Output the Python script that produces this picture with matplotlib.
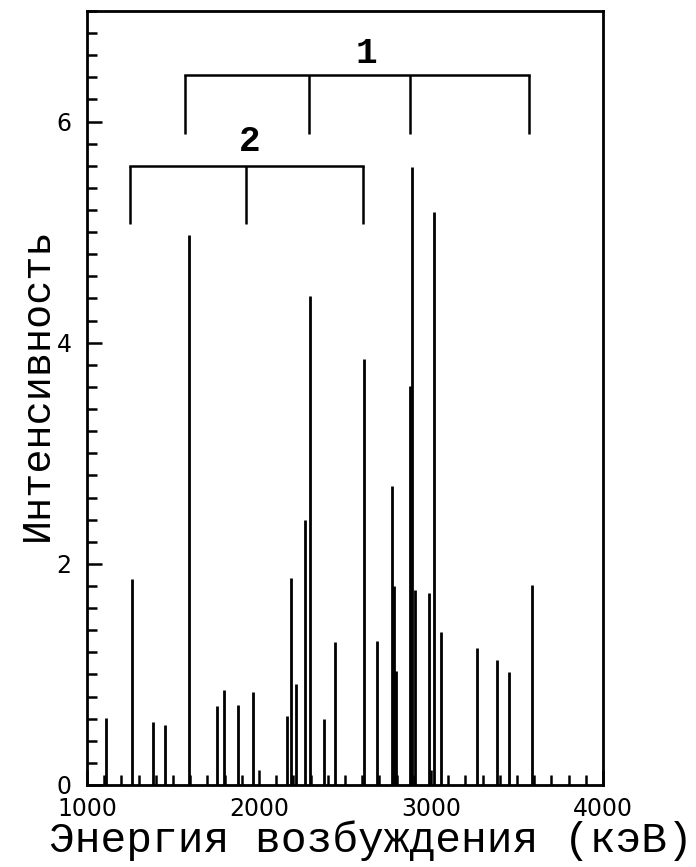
import matplotlib
matplotlib.use("Agg")
import matplotlib.pyplot as plt
from matplotlib.ticker import MultipleLocator
import numpy as np

# excitation energies (keV) and line intensities
energy = [1109, 1260, 1386, 1451, 1595, 1754, 1797, 1876, 1967, 2161,
          2184, 2215, 2267, 2297, 2378, 2444, 2610, 2686, 2771, 2787,
          2797, 2880, 2888, 2907, 2990, 3015, 3056, 3266, 3382, 3452, 3589]
intensity = [0.61, 1.86, 0.57, 0.54, 4.97, 0.71, 0.86, 0.72, 0.84, 0.62,
             1.87, 0.91, 2.40, 4.42, 0.60, 1.29, 3.85, 1.30, 2.70, 1.80,
             1.03, 3.61, 5.59, 1.76, 1.74, 5.18, 1.38, 1.24, 1.13, 1.02, 1.81]

# groups of lines marked with brackets
group1_legs = [1570, 2293, 2878, 3570]
group1_top, group1_bottom = 6.42, 5.89
group2_legs = [1250, 1924, 2603]
group2_top, group2_bottom = 5.60, 5.07
group_labels = [("1", 2625, 6.62), ("2", 1948, 5.82)]

fig = plt.figure(figsize=(6.96, 8.67), dpi=100)
ax = fig.add_axes([0.125, 0.0946, 0.7414, 0.8927])

ax.vlines(energy, 0, intensity, colors="black", linewidth=2.0)

for legs, top, bottom in [(group1_legs, group1_top, group1_bottom),
                          (group2_legs, group2_top, group2_bottom)]:
    ax.plot([legs[0], legs[-1]], [top, top], color="black", lw=1.8,
            solid_capstyle="projecting")
    ax.vlines(legs, bottom, top, colors="black", linewidth=1.8)

for text, x, y in group_labels:
    ax.text(x, y, text, ha="center", va="center", fontsize=26,
            family="Liberation Mono", fontweight="bold")

ax.set_xlim(1000, 4000)
ax.set_ylim(0, 7)
ax.xaxis.set_major_locator(MultipleLocator(1000))
ax.xaxis.set_minor_locator(MultipleLocator(100))
ax.yaxis.set_major_locator(MultipleLocator(2))
ax.yaxis.set_minor_locator(MultipleLocator(0.2))
ax.tick_params(which="both", direction="in", top=False, right=False,
               width=1.8, labelsize=17)
ax.tick_params(which="major", length=11)
ax.tick_params(axis="x", which="major", pad=9)
ax.tick_params(axis="y", which="major", pad=11)
ax.tick_params(which="minor", length=7)
for s in ax.spines.values():
    s.set_linewidth(2.0)

ax.set_xlabel("Энергия возбуждения (кэВ)", family="Liberation Mono",
              fontsize=31)
ax.xaxis.set_label_coords(0.55, -0.046)
ax.set_ylabel("Интенсивность", family="Liberation Mono", fontsize=29)
ax.yaxis.set_label_coords(-0.06, 0.518)

fig.savefig("out.png", dpi=100)
